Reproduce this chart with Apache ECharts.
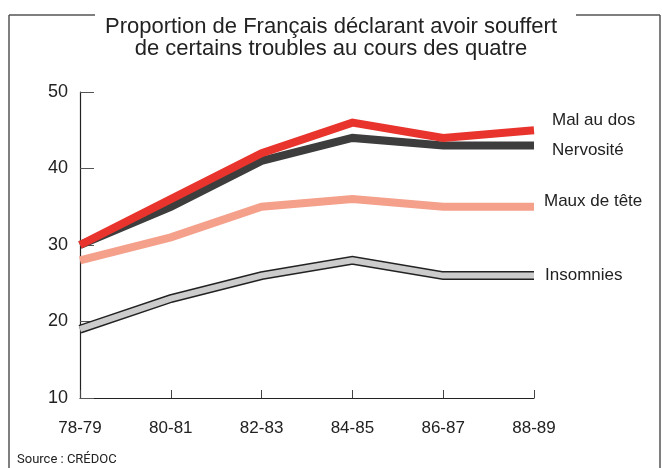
<!DOCTYPE html>
<html>
<head>
<meta charset="utf-8">
<script src="https://cdn.jsdelivr.net/npm/echarts@6/dist/echarts.min.js"></script>
<style>
  html, body { margin: 0; padding: 0; background: #fff; }
  #main { width: 662px; height: 468px; }
</style>
</head>
<body>
<div id="main"></div>
<script>
// périodes et pourcentages
var periodes = ['78-79', '80-81', '82-83', '84-85', '86-87', '88-89'];
var malAuDos = [30, 36, 42, 46, 44, 45];
var nervosite = [30, 35, 41, 44, 43, 43];
var mauxDeTete = [28, 31, 35, 36, 35, 35];
var insomnies = [19, 23, 26, 28, 26, 26];

var police = "'Liberation Sans', Arial, sans-serif";
var texte = '#222';

var myChart = echarts.init(document.getElementById('main'));

function serie(nom, data, couleur, largeur, z, decalage) {
    return {
        name: nom,
        type: 'line',
        data: data,
        symbol: 'none',
        z: z,
        lineStyle: { color: couleur, width: largeur, cap: 'butt', join: 'miter' },
        endLabel: decalage ? {
            show: true,
            formatter: nom,
            color: texte,
            fontFamily: police,
            fontSize: 17,
            offset: decalage
        } : { show: false },
        emphasis: { disabled: true },
        animation: false
    };
}

var option = {
    animation: false,
    title: {
        text: 'Proportion de Français déclarant avoir souffert\nde certains troubles au cours des quatre',
        left: 'center',
        top: 11,
        textStyle: {
            color: texte,
            fontFamily: police,
            fontSize: 22,
            fontWeight: 'normal',
            lineHeight: 22
        }
    },
    grid: { left: 80, right: 128, top: 92, bottom: 70 },
    xAxis: {
        type: 'category',
        data: periodes,
        boundaryGap: false,
        axisLine: { lineStyle: { color: '#222', width: 1.2 } },
        axisTick: { inside: true, length: 8, lineStyle: { color: '#444' } },
        axisLabel: { color: texte, fontFamily: police, fontSize: 17, margin: 22 },
        splitLine: { show: false }
    },
    yAxis: {
        type: 'value',
        min: 10,
        max: 50,
        interval: 10,
        axisLine: { show: true, lineStyle: { color: '#222', width: 1.2 } },
        axisTick: { show: true, inside: true, length: 14, lineStyle: { color: '#555' } },
        axisLabel: { color: texte, fontFamily: police, fontSize: 18, margin: 12 },
        splitLine: { show: false }
    },
    graphic: [
        { type: 'line', shape: { x1: 9, y1: 15, x2: 9, y2: 468 }, style: { stroke: '#555', lineWidth: 1.5 } },
        { type: 'line', shape: { x1: 660, y1: 15, x2: 660, y2: 468 }, style: { stroke: '#555', lineWidth: 1.5 } },
        { type: 'line', shape: { x1: 9, y1: 15, x2: 95, y2: 15 }, style: { stroke: '#555', lineWidth: 1.5 } },
        { type: 'line', shape: { x1: 576, y1: 15, x2: 660, y2: 15 }, style: { stroke: '#555', lineWidth: 1.5 } },
        {
            type: 'text', left: 17, top: 453,
            style: { text: 'Source : CRÉDOC', fill: texte, font: '13px Roboto, Arial, sans-serif' }
        }
    ],
    series: [
        serie('Insomnies', insomnies, '#222', 9, 2, null),
        serie('Insomnies', insomnies, '#cccccc', 6, 3, [3, 0]),
        serie('Maux de tête', mauxDeTete, '#f4a08a', 8, 4, [2, -5]),
        serie('Nervosité', nervosite, '#3d3d3d', 8, 5, [10, 5]),
        serie('Mal au dos', malAuDos, '#e8342c', 8, 6, [10, -10])
    ]
};
myChart.setOption(option);
</script>
</body>
</html>
